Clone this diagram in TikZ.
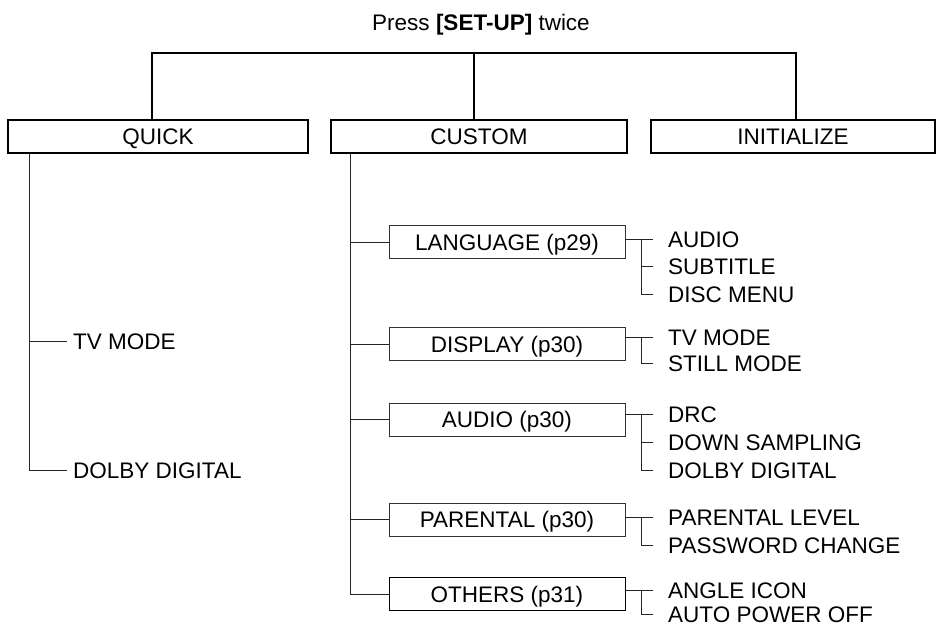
\documentclass[tikz,border=0pt]{standalone}
\usepackage{fontspec}
\setmainfont{Liberation Sans}
\begin{document}
\begin{tikzpicture}[x=1pt,y=-1pt,
  every node/.style={font=\fontsize{22.5}{27}\selectfont, text=black},
  capline/.style={text height=16pt, text depth=0pt},
  topbox/.style={draw=black, line width=1.1pt, minimum height=33pt, inner sep=0pt, capline},
  subbox/.style={draw=black!80, line width=0.9pt, minimum width=236pt, minimum height=33pt, inner sep=0pt, capline},
  item/.style={anchor=west, inner sep=0pt, capline},
  mainline/.style={draw=black, line width=1.1pt},
  subline/.style={draw=black!85, line width=0.9pt}
]
\useasboundingbox (0,0) rectangle (938,627);

% title
\node[anchor=base, inner sep=0pt] (title) at (481,30) {Press {\bfseries [SET-UP]} twice};

% top-level boxes
\node[topbox, minimum width=300pt] (quick) at (158,136.5) {QUICK};
\node[topbox, minimum width=296pt] (custom) at (479,136.5) {CUSTOM};
\node[topbox, minimum width=284pt] (init) at (793,136.5) {INITIALIZE};

\coordinate (bar) at (474,53);
\draw[mainline] ([xshift=-6pt]quick.north) |- ([xshift=3pt]init.north |- bar) -- ([xshift=3pt]init.north);
\draw[mainline] (bar) -- ([xshift=-5pt]custom.north);

% QUICK branch
\node[item] (qtv) at (73,341) {TV MODE};
\node[item] (qdd) at (73,470) {DOLBY DIGITAL};
\draw[subline] ([xshift=22pt]quick.south west) |- ([xshift=-6pt]qtv.west);
\draw[subline] ([xshift=22pt]quick.south west) |- ([xshift=-6pt]qdd.west);

% CUSTOM sub boxes
\node[subbox] (lang) at (507,242) {LANGUAGE (p29)};
\node[subbox] (disp) at (507,344) {DISPLAY (p30)};
\node[subbox] (aud) at (507,419.5) {AUDIO (p30)};
\node[subbox] (par) at (507,519.5) {PARENTAL (p30)};
\node[subbox, draw=black] (oth) at (507,594) {OTHERS (p31)};

\draw[subline] ([xshift=20pt]custom.south west) |- (oth.west);
\foreach \b in {lang,disp,aud,par}
  \draw[subline] ([xshift=20pt]custom.south west |- \b.west) -- (\b.west);

% sub items
\node[item] (la1) at (668,239) {AUDIO};
\node[item] (la2) at (668,266) {SUBTITLE};
\node[item] (la3) at (668,294) {DISC MENU};
\node[item] (di1) at (668,337) {TV MODE};
\node[item] (di2) at (668,363) {STILL MODE};
\node[item] (au1) at (668,414) {DRC};
\node[item] (au2) at (668,442) {DOWN SAMPLING};
\node[item] (au3) at (668,470) {DOLBY DIGITAL};
\node[item] (pa1) at (668,517) {PARENTAL LEVEL};
\node[item] (pa2) at (668,545) {PASSWORD CHANGE};
\node[item] (ot1) at (668,590) {ANGLE ICON};
\node[item] (ot2) at (668,614) {AUTO POWER OFF};

% sub connectors
\draw[subline] (lang.east |- la1.west) -- ([xshift=-15pt]la1.west);
\draw[subline] ([xshift=-27pt]la1.west) |- ([xshift=-15pt]la2.west);
\draw[subline] ([xshift=-27pt]la1.west) |- ([xshift=-15pt]la3.west);

\draw[subline] (disp.east |- di1.west) -- ([xshift=-15pt]di1.west);
\draw[subline] ([xshift=-27pt]di1.west) |- ([xshift=-15pt]di2.west);

\draw[subline] (aud.east |- au1.west) -- ([xshift=-15pt]au1.west);
\draw[subline] ([xshift=-27pt]au1.west) |- ([xshift=-15pt]au2.west);
\draw[subline] ([xshift=-27pt]au1.west) |- ([xshift=-15pt]au3.west);

\draw[subline] (par.east |- pa1.west) -- ([xshift=-15pt]pa1.west);
\draw[subline] ([xshift=-27pt]pa1.west) |- ([xshift=-15pt]pa2.west);

\draw[subline] (oth.east |- ot1.west) -- ([xshift=-15pt]ot1.west);
\draw[subline] ([xshift=-27pt]ot1.west) |- ([xshift=-15pt]ot2.west);
\end{tikzpicture}
\end{document}
